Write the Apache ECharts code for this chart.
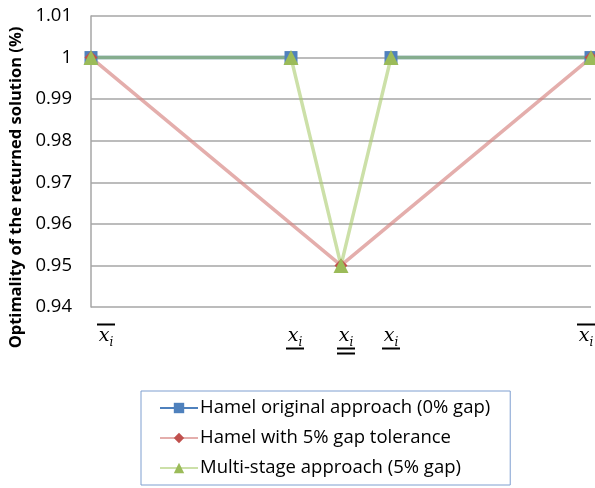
<!DOCTYPE html>
<html><head><meta charset="utf-8">
<script src="https://cdn.jsdelivr.net/npm/echarts@6/dist/echarts.min.js"></script>
<style>html,body{margin:0;padding:0;background:#fff}#c{width:595px;height:488px}</style>
</head><body><div id="c"></div>
<script>
const xPositions = [0, 40, 50, 60, 100];
const xLabelKinds = ['over', 'under', 'double', 'under', 'over'];
const yTicks = { min: 0.94, max: 1.01, interval: 0.01 };
const seriesNames = ['Hamel original approach (0% gap)', 'Hamel with 5% gap tolerance', 'Multi-stage approach (5% gap)'];
const hamelOriginal = [1, 1, null, 1, 1];
const hamelGap = [1, null, 0.95, null, 1];
const multiStage = [1, 1, 0.95, 1, 1];

function toData(vals) {
  return vals.map((v, i) => [xPositions[i], v === null ? '-' : v]);
}
// label horizontal nudges (pixels, + = right), purely presentational
const labelNudge = [15, 4, 5, 0, -5];
const chart = echarts.init(document.getElementById('c'));
const serif = 'DejaVu Serif';
function pad(n) {
  if (n > 0) return ['{p' + (2 * n) + '|}', ''];
  if (n < 0) return ['', '{p' + (-2 * n) + '|}'];
  return ['', ''];
}
const richPads = {};
[2, 4, 6, 8, 10, 12, 14, 16, 18, 20, 22, 24, 26, 28, 30, 32, 34, 36, 38, 40].forEach(w => richPads['p' + w] = { width: w, height: 1 });
chart.setOption({
  animation: false,
  grid: { left: 91, right: 4, top: 16, bottom: 181, outerBoundsMode: 'none' },
  xAxis: {
    type: 'value', min: 0, max: 100,
    axisLine: { show: false }, axisTick: { show: false }, splitLine: { show: false },
    axisLabel: {
      customValues: xPositions,
      margin: 15,
      formatter: function (v) {
        const idx = xPositions.indexOf(v);
        const k = xLabelKinds[idx];
        const [a, b] = pad(labelNudge[idx]);
        const body = a + '{x|x}{i|i}' + b;
        const bar = a + '{b|}' + b;
        if (k === 'over') return bar + '\n' + body;
        if (k === 'under') return a + '{sp|}' + b + '\n' + body + '\n' + bar;
        return a + '{sp|}' + b + '\n' + body + '\n' + bar + '\n' + bar;
      },
      rich: Object.assign({
        x: { fontFamily: serif, fontStyle: 'italic', fontSize: 19, color: '#000', lineHeight: 19, verticalAlign: 'bottom' },
        i: { fontFamily: serif, fontStyle: 'italic', fontSize: 12, color: '#000', lineHeight: 19, verticalAlign: 'bottom', padding: [0, 0, -3, 0] },
        b: { width: 18, height: 2, backgroundColor: '#000', lineHeight: 5 },
        sp: { width: 18, height: 2, lineHeight: 5 }
      }, richPads)
    }
  },
  yAxis: {
    type: 'value', min: yTicks.min, max: yTicks.max, interval: yTicks.interval,
    name: 'Optimality of the returned solution (%)',
    nameLocation: 'middle', nameGap: 64, nameRotate: 90,
    nameTextStyle: { fontFamily: 'Open Sans', fontWeight: 'bold', fontSize: 16.5, color: '#000', padding: [0, 52, 0, 0] },
    axisLine: { show: true, lineStyle: { color: '#a6a6a6', width: 1.5 } },
    axisTick: { show: false },
    splitLine: { lineStyle: { color: '#a6a6a6', width: 1.5 } },
    axisLabel: {
      margin: 19, fontFamily: 'Open Sans', fontSize: 18.5, color: '#000',
      formatter: v => String(parseFloat(v.toFixed(2)))
    }
  },
  legend: {
    orient: 'vertical', left: 141, top: 391,
    itemWidth: 38, itemHeight: 13, itemGap: 8,
    padding: [6, 20, 6, 18],
    borderColor: '#7f9fd0', borderWidth: 1,
    textStyle: { fontFamily: 'Open Sans', fontSize: 18.5, lineHeight: 22, color: '#000', padding: [0, 0, 0, -3] },
    data: seriesNames
  },
  series: [
    { name: seriesNames[0], type: 'line', data: toData(hamelOriginal), connectNulls: false,
      symbol: 'rect', symbolSize: 13, itemStyle: { color: '#4f81bd' },
      lineStyle: { color: '#4f81bd', width: 3.5 } },
    { name: seriesNames[1], type: 'line', data: toData(hamelGap), connectNulls: true,
      symbol: 'diamond', symbolSize: 13, itemStyle: { color: '#c0504d' },
      lineStyle: { color: 'rgba(214,130,128,0.65)', width: 3.5 } },
    { name: seriesNames[2], type: 'line', data: toData(multiStage), connectNulls: true,
      symbol: 'triangle', symbolSize: 15, itemStyle: { color: '#9bbb59' },
      lineStyle: { color: 'rgba(170,203,110,0.6)', width: 3.5 } }
  ]
});
</script></body></html>
